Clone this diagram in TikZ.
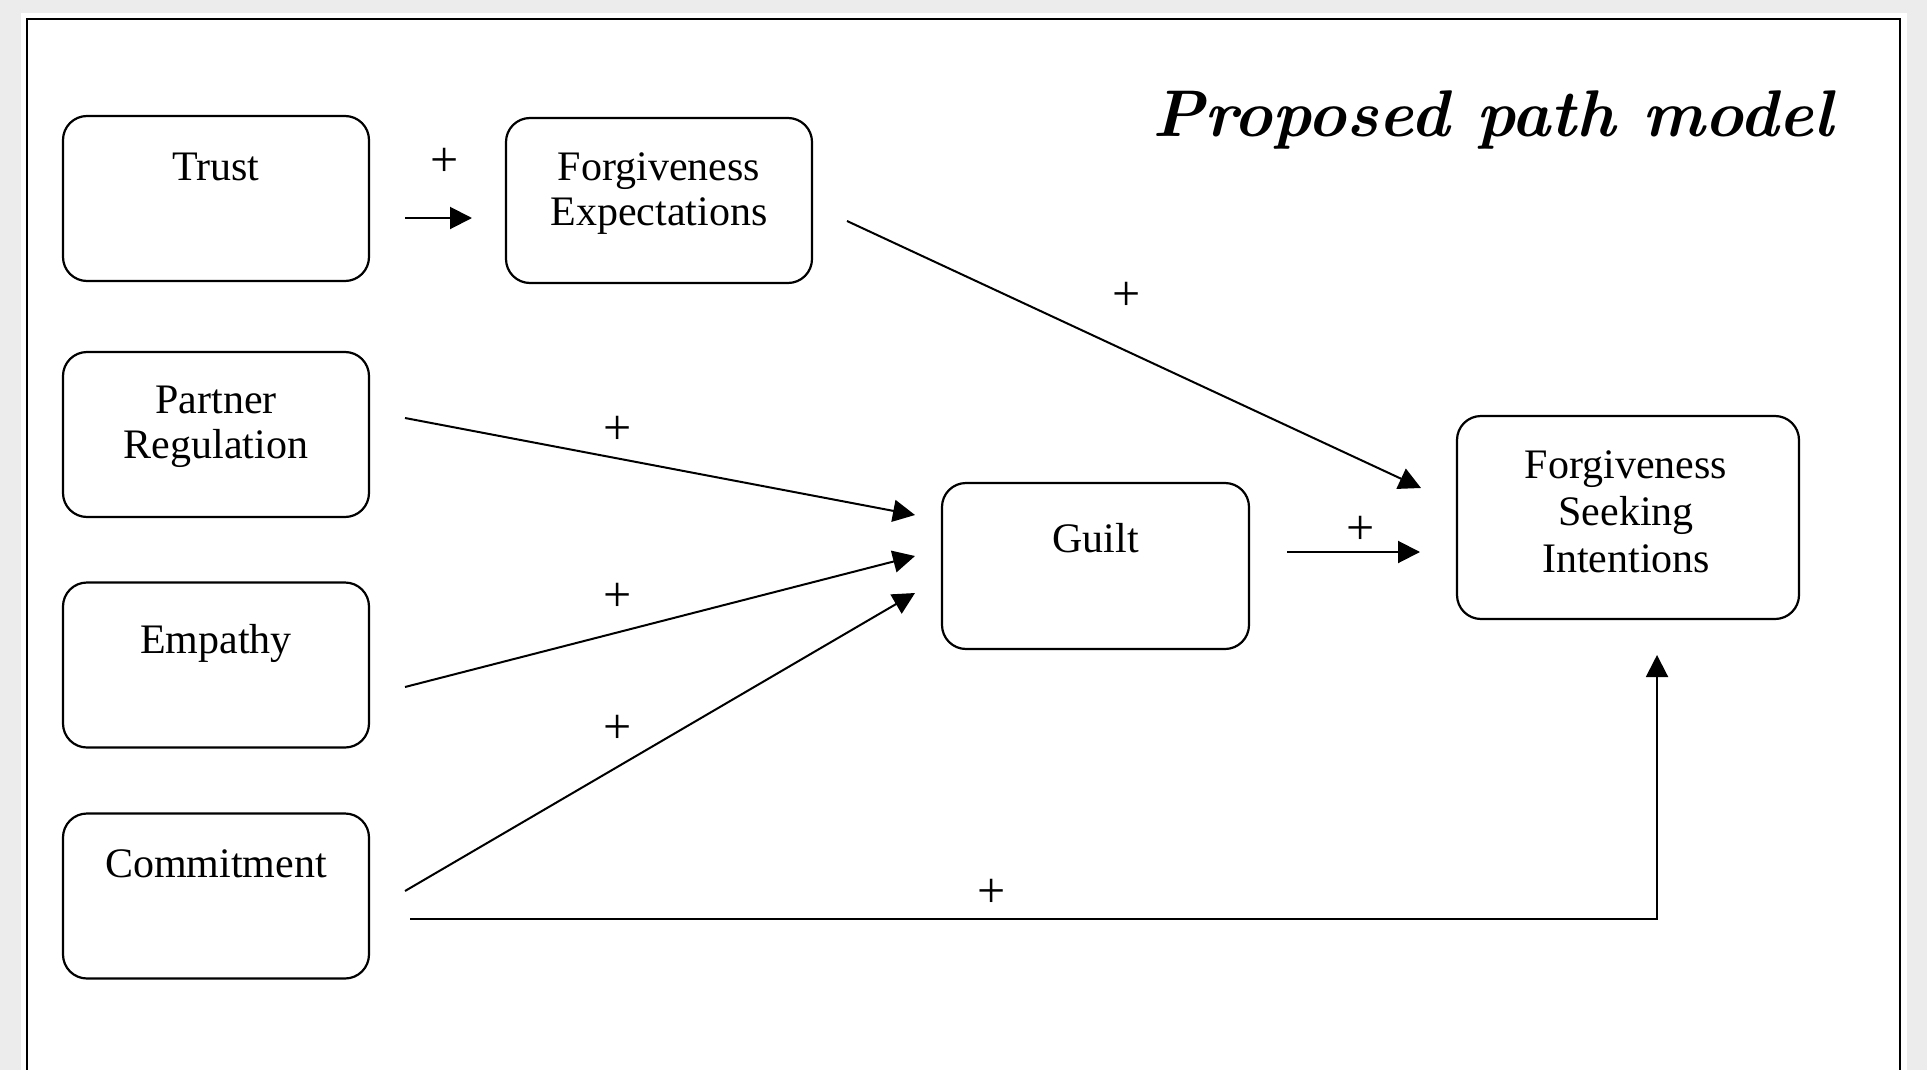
\documentclass[tikz,border=0pt]{standalone}
\usepackage{fontspec}
\setmainfont{Liberation Serif}
\newfontfamily\titlefont{Latin Modern Roman}
\usetikzlibrary{arrows.meta}
\definecolor{bggray}{RGB}{236,236,236}
\begin{document}
\begin{tikzpicture}[x=0.5pt,y=-0.5pt,
  box/.style={draw,line width=1.1pt,rounded corners=12pt,inner sep=0pt,minimum width=153pt,minimum height=82.5pt},
  lbl/.style={font=\fontsize{21}{22.5}\selectfont,align=center,anchor=base,inner sep=0pt},
  plus/.style={font=\fontsize{25}{25}\selectfont,inner sep=0pt},
  arr/.style={line width=1pt,-{Triangle[length=11pt,width=11pt]}}]
\useasboundingbox (0,0) rectangle (1927,1070);
\fill[bggray] (0,0) rectangle (1927,1070);
\fill[white] (21,13) rectangle (1907,1070);
\draw[line width=1.2pt] (27,1075) -- (27,19) -- (1900,19) -- (1900,1075);

\node[anchor=base west,inner sep=0pt,font=\titlefont\fontsize{33}{33}\selectfont\bfseries\itshape] (title) at (1152,136) {Proposed path model};

% boxes
\node[box] (trust) at (216,198.5) {};
\node[box] (fe) at (659,200.5) {};
\node[box] (pr) at (216,434.5) {};
\node[box] (emp) at (216,665) {};
\node[box] (com) at (216,896) {};
\node[box,minimum width=153.5pt,minimum height=83pt] (guilt) at (1095.5,566) {};
\node[box,minimum width=171pt,minimum height=101.5pt] (fsi) at (1628,517.5) {};

% labels (base anchor = baseline of the last line)
\node[lbl] (trustt) at (216,180) {Trust};
\node[lbl] (fet) at (659,225) {Forgiveness\\Expectations};
\node[lbl] (prt) at (216,458) {Partner\\Regulation};
\node[lbl] (empt) at (216,653) {Empathy};
\node[lbl] (comt) at (216,877) {Commitment};
\node[lbl] (guiltt) at (1095.5,552) {Guilt};
\node[lbl,font=\fontsize{21}{23.5}\selectfont] (fsit) at (1626,572) {Forgiveness\\Seeking\\Intentions};

% connector end points
\coordinate (a1) at (405,218);  \coordinate (a2) at (472,218);
\coordinate (b1) at (847,221);  \coordinate (b2) at (1421,488);
\coordinate (c1) at (405,418);  \coordinate (c2) at (915,515);
\coordinate (d1) at (405,687);  \coordinate (d2) at (915,556);
\coordinate (e1) at (405,891);  \coordinate (e2) at (915,593);
\coordinate (f1) at (1287,552); \coordinate (f2) at (1420,552);
\coordinate (g1) at (410,919);  \coordinate (gc) at (1657,919); \coordinate (g2) at (1657,655);

\draw[arr] (a1) -- (a2);
\draw[arr] (b1) -- (b2);
\draw[arr] (c1) -- (c2);
\draw[arr] (d1) -- (d2);
\draw[arr] (e1) -- (e2);
\draw[arr] (f1) -- (f2);
\draw[arr] (g1) -- (gc) -- (g2);

% signs
\node[plus] (p1) at (445,162) {+};
\node[plus] (p2) at (1127,296) {+};
\node[plus] (p3) at (618,430) {+};
\node[plus] (p4) at (618,597) {+};
\node[plus] (p5) at (618,729) {+};
\node[plus] (p6) at (1361,530) {+};
\node[plus] (p7) at (992,893) {+};
\end{tikzpicture}
\end{document}
